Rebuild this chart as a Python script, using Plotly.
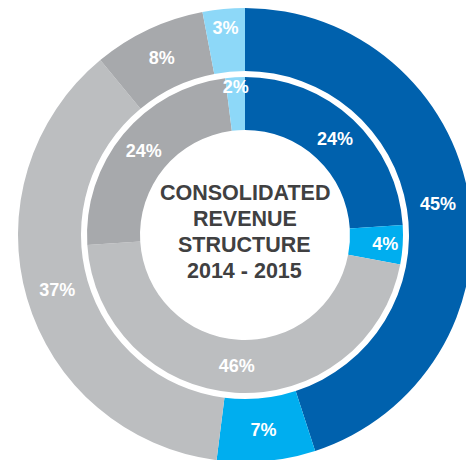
import plotly.graph_objects as go

segments = ["Segment A", "Segment B", "Segment C", "Segment D", "Segment E"]
outer_2015 = [45, 7, 37, 8, 3]
inner_2014 = [24, 4, 46, 24, 2]
colors = ["#0061AD", "#00AEEF", "#BCBEC0", "#A7A9AC", "#8DD8F8"]
center_title = ["CONSOLIDATED", "REVENUE", "STRUCTURE", "2014 - 2015"]

# figure is a bit larger than the window; the page clips it (outer ring is cut at right/bottom)
W, H = 480, 470
cx, cy = 245, 235          # centre in px from top-left
R_out, R_in = 227, 158
hole_out = 164 / R_out
hole_in = 105 / R_in

def dom(r):
    x0 = (cx - r) / W
    x1 = (cx + r) / W
    yc = H - cy
    return dict(x=[max(0, x0), min(1, x1)], y=[max(0, (yc - r) / H), min(1, (yc + r) / H)])

label_font = dict(family="Liberation Sans", size=18, color="white", weight="bold")

fig = go.Figure()
for vals, R, hole in [(outer_2015, R_out, hole_out), (inner_2014, R_in, hole_in)]:
    fig.add_trace(go.Pie(
        labels=segments, values=vals, sort=False, direction="clockwise", rotation=0,
        hole=hole, domain=dom(R),
        marker=dict(colors=colors, line=dict(width=0)),
        texttemplate="%{value}%", textposition="inside", insidetextorientation="horizontal",
        textfont=label_font,
        hoverinfo="label+value", showlegend=False,
    ))

line_gap = 26
text_mid = 232  # from top
for i, line in enumerate(center_title):
    y_px = text_mid + (i - 1.5) * line_gap
    fig.add_annotation(
        x=cx / W, y=(H - y_px) / H, xref="paper", yref="paper",
        xanchor="center", yanchor="middle",
        text=line, showarrow=False,
        font=dict(family="Liberation Sans", size=21.5, color="#404041", weight="bold"),
    )

fig.update_layout(
    width=W, height=H, margin=dict(l=0, r=0, t=0, b=0),
    paper_bgcolor="white", plot_bgcolor="white",
    uniformtext=dict(minsize=18, mode="show"),
)
fig.write_html(
    "out.html",
    config={"displayModeBar": False},
    post_script="document.body.style.margin='0';document.body.style.overflow='hidden';",
)
